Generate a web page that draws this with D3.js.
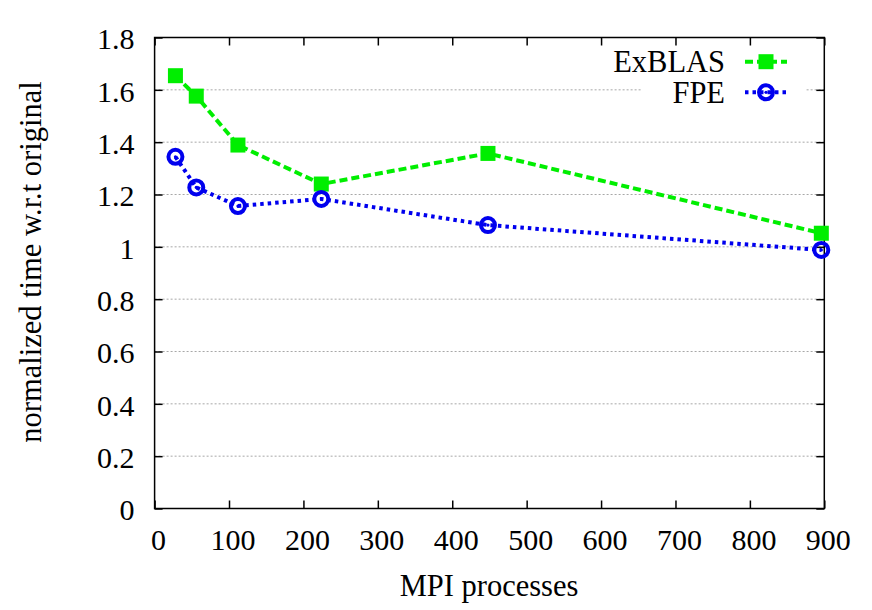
<!DOCTYPE html>
<html><head><meta charset="utf-8">
<script src="https://cdn.jsdelivr.net/npm/d3@7"></script>
<style>body{margin:0;background:#fff}svg{display:block}text{font-family:"Liberation Serif","Times New Roman",serif;fill:#000}</style>
</head><body>
<script>
const procs = [28, 56, 112, 224, 448, 896];
const exblas = [1.654, 1.576, 1.389, 1.240, 1.357, 1.052];
const fpe = [1.344, 1.227, 1.156, 1.183, 1.083, 0.988];
const xTicks = [0,100,200,300,400,500,600,700,800,900];
const yTicks = [0,0.2,0.4,0.6,0.8,1,1.2,1.4,1.6,1.8];
const seriesNames = ["ExBLAS", "FPE"];

const W = 872, H = 610;
const L = 154.6, R = 824.3, T = 37.5, B = 508.5;
const svg = d3.select("body").append("svg").attr("width", W).attr("height", H);
const x = d3.scaleLinear().domain([0, 900]).range([L, R]);
const y = d3.scaleLinear().domain([0, 1.8]).range([B, T]);
const tfs = 30, lfs = 30.5;
const FONT = '"Liberation Serif","Times New Roman",serif';

// grid
const grid = svg.append("g");
yTicks.filter(v => v > 0 && v < 1.8).forEach(v => {
  grid.append("line").attr("x1", L).attr("x2", R).attr("y1", y(v)).attr("y2", y(v))
    .attr("stroke", "#a8a8a8").attr("stroke-width", 1).attr("stroke-dasharray", "2,2");
});

const axB = d3.axisBottom(x).tickValues(xTicks).tickSize(-8).tickFormat(d3.format("d"));
const axT = d3.axisTop(x).tickValues(xTicks).tickSize(-8).tickFormat("");
const axL = d3.axisLeft(y).tickValues(yTicks).tickSize(-8).tickPadding(20).tickFormat(d => d3.format("")(d));
const axR = d3.axisRight(y).tickValues(yTicks).tickSize(-8).tickFormat("");
function styleAx(g){ g.attr("font-family", FONT); g.select(".domain").remove();
  g.selectAll(".tick line").attr("stroke","#000").attr("stroke-width",1.5);
  g.selectAll("text").style("font-family", FONT).style("font-size", tfs+"px").attr("fill","#000"); }
svg.append("g").attr("transform", `translate(0,${B})`).call(axB).call(styleAx)
  .selectAll("text").attr("y", 41.5).attr("dy", 0).attr("dx", 3.5);
svg.append("g").attr("transform", `translate(0,${T})`).call(axT).call(styleAx);
svg.append("g").attr("transform", `translate(${L},0)`).call(axL).call(styleAx)
  .selectAll("text").attr("dy", "0.38em");
svg.append("g").attr("transform", `translate(${R},0)`).call(axR).call(styleAx);

// legend background
const legend = svg.append("g");
legend.append("rect").attr("x", 641).attr("y", 46).attr("width", 165).attr("height", 62).attr("fill", "#fff");

// frame
svg.append("rect").attr("x", L).attr("y", T).attr("width", R - L).attr("height", B - T)
  .attr("fill", "none").attr("stroke", "#000").attr("stroke-width", 1.5);

const line = d3.line().x(d => x(d[0])).y(d => y(d[1]));
const exData = procs.map((p, i) => [p, exblas[i]]);
const fpData = procs.map((p, i) => [p, fpe[i]]);
const GREEN = "#00ee00", BLUE = "#0000ee";
const EXDASH = "8,4", FPDASH = "3.5,4";

svg.append("path").datum(exData).attr("d", line).attr("fill", "none")
  .attr("stroke", GREEN).attr("stroke-width", 4).attr("stroke-dasharray", EXDASH);
svg.append("path").datum(fpData).attr("d", line).attr("fill", "none")
  .attr("stroke", BLUE).attr("stroke-width", 4).attr("stroke-dasharray", FPDASH);

function square(g, cx, cy){ g.append("rect").attr("x", cx - 7.5).attr("y", cy - 7.5).attr("width", 15).attr("height", 15).attr("fill", GREEN); }
function circ(g, cx, cy){
  g.append("circle").attr("cx", cx).attr("cy", cy).attr("r", 7).attr("fill", "none").attr("stroke", BLUE).attr("stroke-width", 4);
  g.append("circle").attr("cx", cx).attr("cy", cy).attr("r", 1.6).attr("fill", BLUE);
}
const mk = svg.append("g");
exData.forEach(d => square(mk, x(d[0]), y(d[1])));
fpData.forEach(d => circ(mk, x(d[0]), y(d[1])));

// legend entries
const ly = [61.7, 92.3];
legend.append("text").attr("x", 725).attr("y", 71.5).attr("text-anchor", "end").style("font-size", lfs + "px").text(seriesNames[0]);
legend.append("line").attr("x1", 745).attr("x2", 787).attr("y1", ly[0]).attr("y2", ly[0]).attr("stroke", GREEN).attr("stroke-width", 4).attr("stroke-dasharray", EXDASH);
square(legend, 766, ly[0]);
legend.append("text").attr("x", 725).attr("y", 102.5).attr("text-anchor", "end").style("font-size", lfs + "px").text(seriesNames[1]);
legend.append("line").attr("x1", 745).attr("x2", 787).attr("y1", ly[1]).attr("y2", ly[1]).attr("stroke", BLUE).attr("stroke-width", 4).attr("stroke-dasharray", FPDASH);
circ(legend, 766, ly[1]);

// axis titles
svg.append("text").attr("x", 489).attr("y", 595.5).attr("text-anchor", "middle").style("font-size", lfs + "px").text("MPI processes");
svg.append("text").attr("transform", `translate(41,262) rotate(-90)`).attr("text-anchor", "middle").style("font-size", lfs + "px").text("normalized time w.r.t original");
</script>
</body></html>
